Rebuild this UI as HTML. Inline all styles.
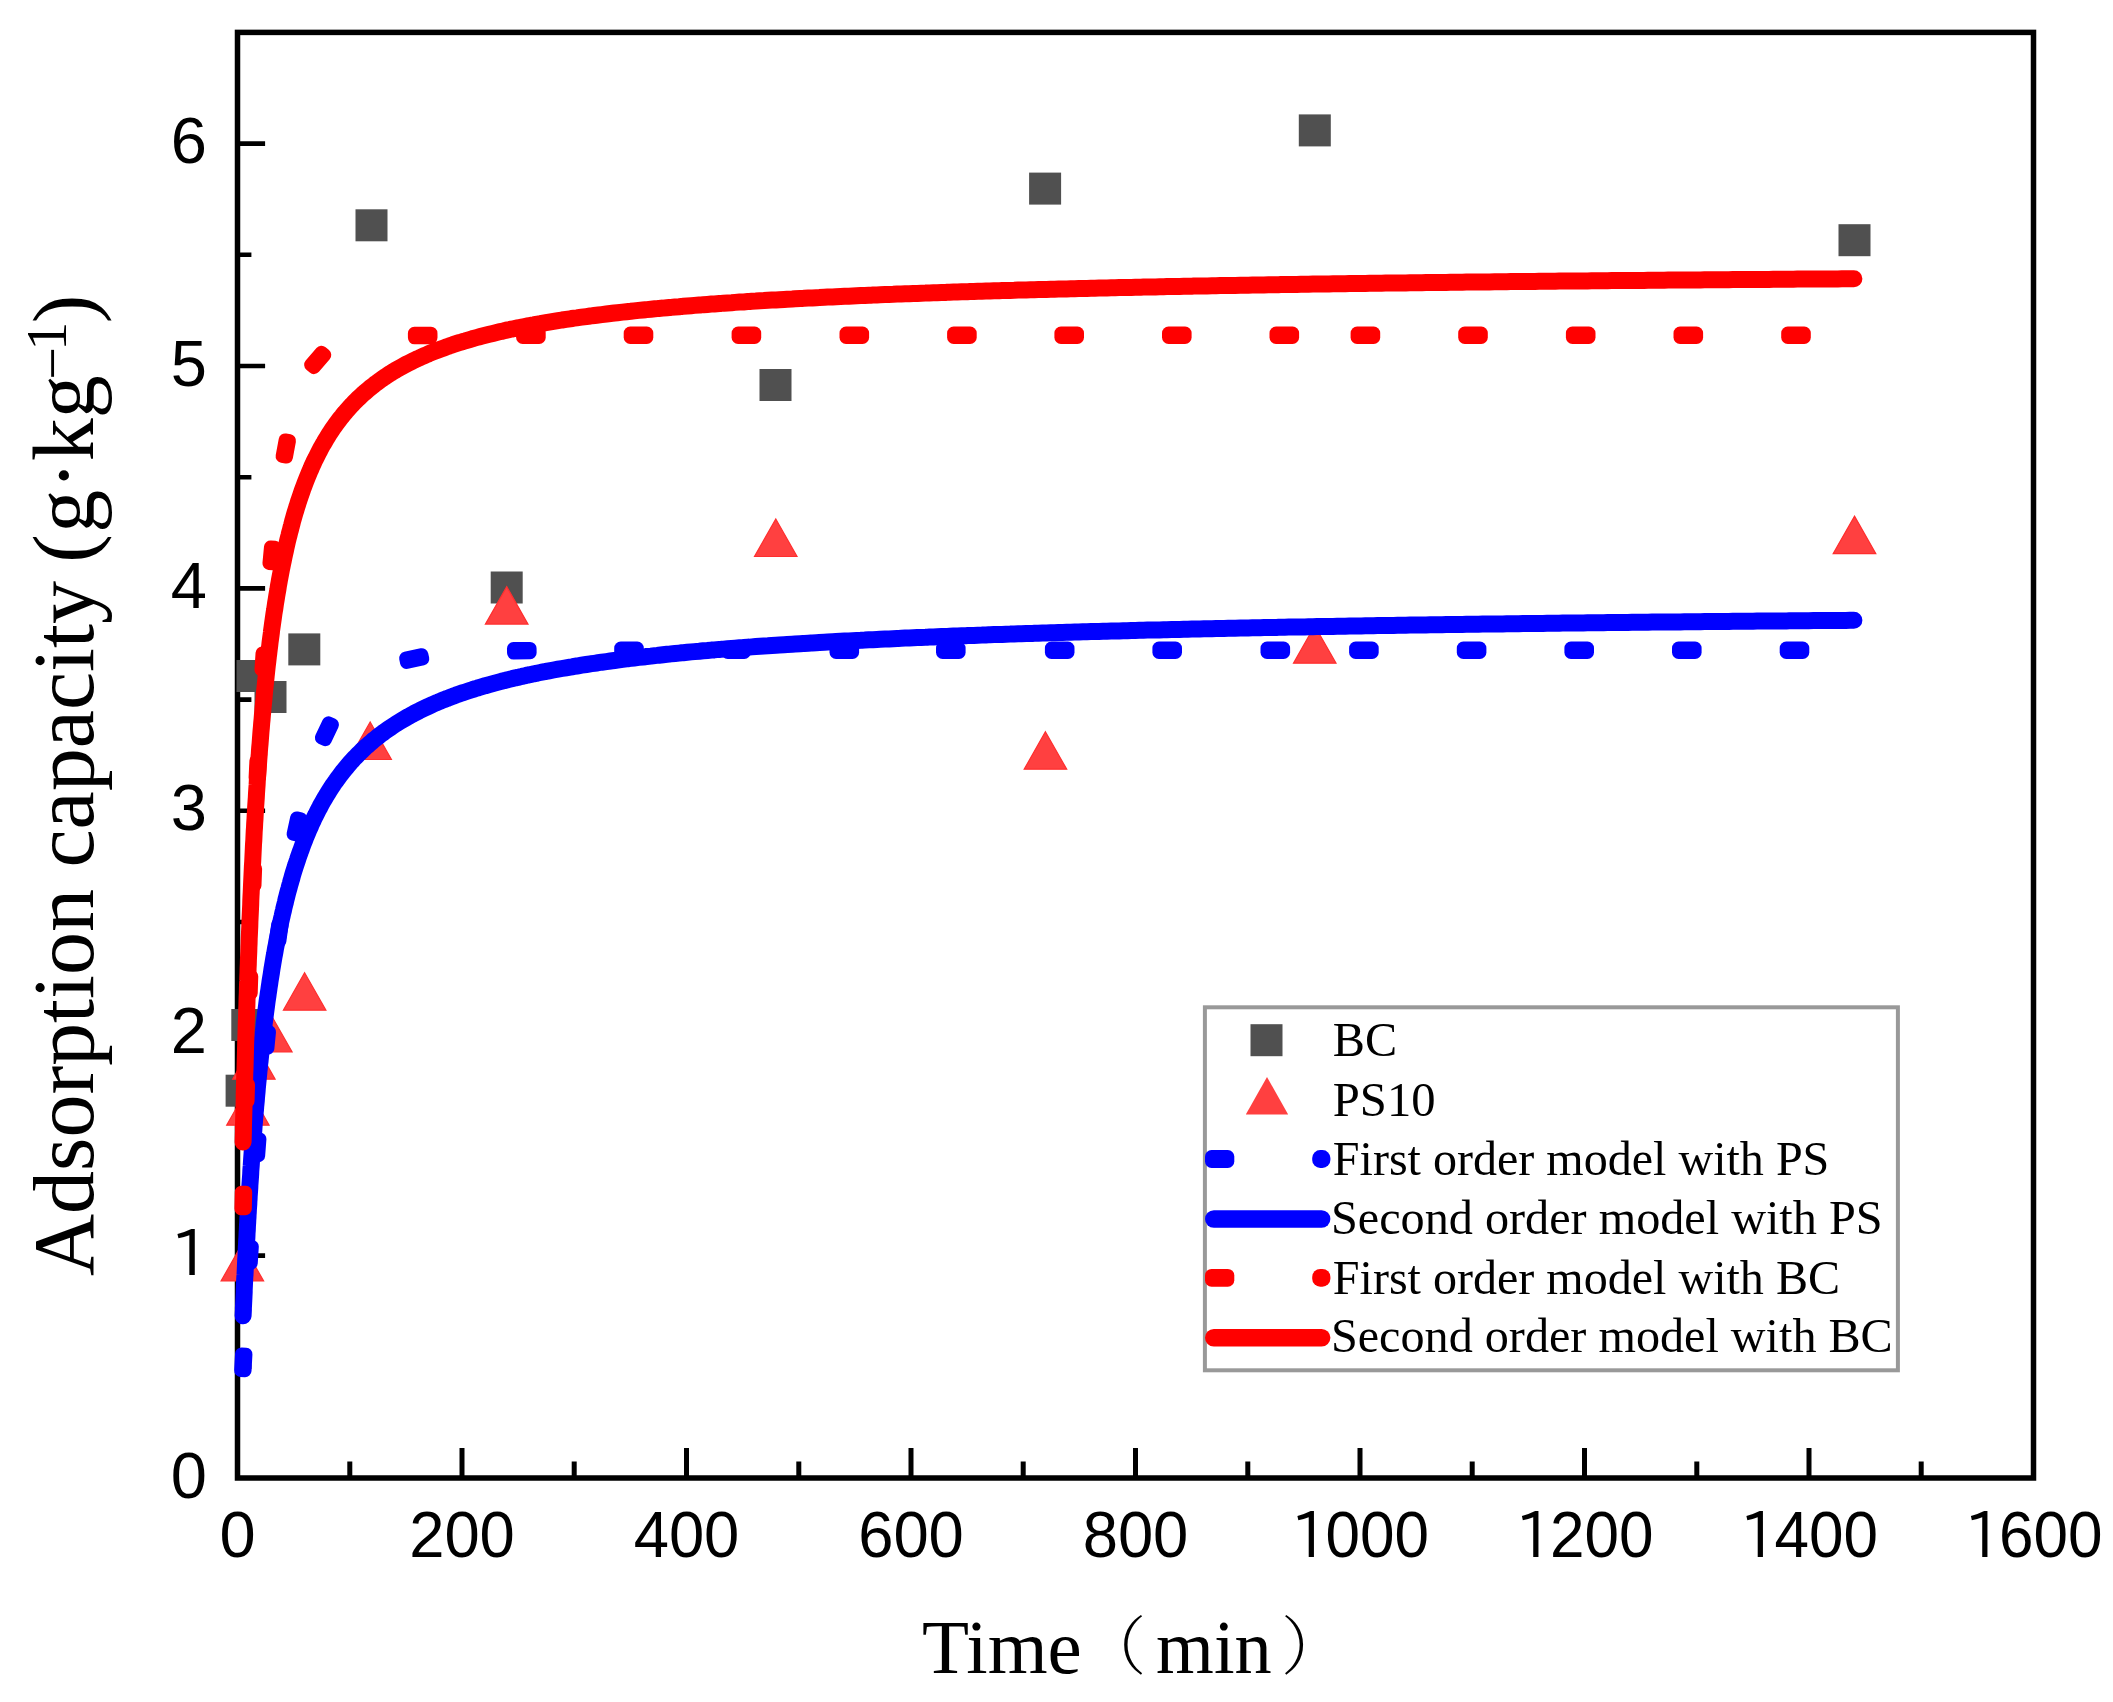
<!DOCTYPE html>
<html><head><meta charset="utf-8"><title>Adsorption kinetics</title>
<style>html,body{margin:0;padding:0;background:#fff;}svg{display:block;filter:blur(0.6px)}</style>
</head><body>
<svg width="2113" height="1702" viewBox="0 0 2113 1702">
<rect width="2113" height="1702" fill="#fff"/>
<rect x="237.5" y="32.4" width="1796.0" height="1445.6" fill="none" stroke="#000" stroke-width="5.5"/>
<path d="M349.8 1478.0V1461.5 M462.0 1478.0V1448.0 M574.2 1478.0V1461.5 M686.5 1478.0V1448.0 M798.8 1478.0V1461.5 M911.0 1478.0V1448.0 M1023.2 1478.0V1461.5 M1135.5 1478.0V1448.0 M1247.8 1478.0V1461.5 M1360.0 1478.0V1448.0 M1472.2 1478.0V1461.5 M1584.5 1478.0V1448.0 M1696.8 1478.0V1461.5 M1809.0 1478.0V1448.0 M1921.2 1478.0V1461.5" stroke="#000" stroke-width="5" fill="none"/>
<path d="M237.5 1366.8H251.4 M237.5 1255.6H265.1 M237.5 1144.4H251.4 M237.5 1033.2H265.1 M237.5 922.0H251.4 M237.5 810.8H265.1 M237.5 699.6H251.4 M237.5 588.4H265.1 M237.5 477.2H251.4 M237.5 366.0H265.1 M237.5 254.8H251.4 M237.5 143.6H265.1" stroke="#000" stroke-width="4.6" fill="none"/>
<g font-family="Liberation Sans, Arial, sans-serif" font-size="65" fill="#000"><text transform="translate(237.5 1557) scale(1.0 1)" text-anchor="middle">0</text><text transform="translate(462.0 1557) scale(0.975 1)" text-anchor="middle">200</text><text transform="translate(686.5 1557) scale(0.975 1)" text-anchor="middle">400</text><text transform="translate(911.0 1557) scale(0.975 1)" text-anchor="middle">600</text><text transform="translate(1135.5 1557) scale(0.975 1)" text-anchor="middle">800</text><text transform="translate(1360.0 1557) scale(0.955 1)" text-anchor="middle"><tspan font-family="IPAPGothic, sans-serif" font-size="62.5" dy="0.8">1</tspan><tspan dx="-3.2" dy="-0.8">000</tspan></text><text transform="translate(1584.5 1557) scale(0.955 1)" text-anchor="middle"><tspan font-family="IPAPGothic, sans-serif" font-size="62.5" dy="0.8">1</tspan><tspan dx="-3.2" dy="-0.8">200</tspan></text><text transform="translate(1809.0 1557) scale(0.955 1)" text-anchor="middle"><tspan font-family="IPAPGothic, sans-serif" font-size="62.5" dy="0.8">1</tspan><tspan dx="-3.2" dy="-0.8">400</tspan></text><text transform="translate(2033.5 1557) scale(0.955 1)" text-anchor="middle"><tspan font-family="IPAPGothic, sans-serif" font-size="62.5" dy="0.8">1</tspan><tspan dx="-3.2" dy="-0.8">600</tspan></text><text x="207" y="1497.5" text-anchor="end">0</text><text x="170.85" y="1275.9" font-family="IPAPGothic, sans-serif" font-size="62.5">1</text><text x="207" y="1052.7" text-anchor="end">2</text><text x="207" y="830.3" text-anchor="end">3</text><text x="207" y="607.9" text-anchor="end">4</text><text x="207" y="385.5" text-anchor="end">5</text><text x="207" y="163.1" text-anchor="end">6</text></g>
<g font-family="Liberation Serif, Times New Roman, serif" font-size="77" fill="#000"><text x="922.0" y="1672.6">Time</text><text transform="translate(1156.1 1672.6) scale(0.965 1)" x="0" y="0">min</text></g>
<g font-family="Noto Serif CJK SC, serif" font-weight="200" font-size="64" fill="#000"><text x="1082.3" y="1669.4">（</text><text x="1280.9" y="1669.4">）</text></g>
<g transform="translate(93.4 0) rotate(-90)" font-family="Liberation Serif, Times New Roman, serif" font-size="86" fill="#000"><text x="-1276.1" y="0">Adsorption capacity</text><text x="-562.8" y="0">(</text><text x="-532.85" y="0">g·kg</text><text x="-379.65" y="-21" font-size="58">−</text><text x="-350.75" y="-27" font-size="58">1</text><text x="-323.2" y="0">)</text></g>
<g fill="#505050"><rect x="225.6" y="1074.7" width="32" height="32"/><rect x="231.3" y="1009.0" width="32" height="32"/><rect x="236.5" y="660.0" width="32" height="32"/><rect x="254.5" y="681.0" width="32" height="32"/><rect x="288.3" y="633.4" width="32" height="32"/><rect x="355.5" y="209.3" width="32" height="32"/><rect x="490.7" y="571.5" width="32" height="32"/><rect x="759.5" y="369.0" width="32" height="32"/><rect x="1029.1" y="172.6" width="32" height="32"/><rect x="1298.8" y="114.4" width="32" height="32"/><rect x="1838.5" y="224.2" width="32" height="32"/></g>
<g fill="#ff4040" stroke="#ff2e2e" stroke-width="1.2" stroke-linejoin="miter"><path d="M242.3 1243.5L263.6 1281.0L221.1 1281.0Z"/><path d="M247.9 1087.8L269.1 1125.2L226.7 1125.2Z"/><path d="M253.9 1041.8L275.1 1079.2L232.7 1079.2Z"/><path d="M270.8 1014.5L292.1 1052.0L249.6 1052.0Z"/><path d="M304.6 972.8L325.9 1010.2L283.4 1010.2Z"/><path d="M370.2 722.0L391.4 759.5L348.9 759.5Z"/><path d="M506.7 586.6L528.0 624.1L485.4 624.1Z"/><path d="M775.8 519.0L797.0 556.5L754.5 556.5Z"/><path d="M1045.4 731.8L1066.7 769.2L1024.2 769.2Z"/><path d="M1314.7 625.8L1336.0 663.2L1293.5 663.2Z"/><path d="M1854.5 516.1L1875.8 553.6L1833.2 553.6Z"/></g>
<g fill="#0000ff"><rect x="228.5" y="1353.6" width="29.6" height="17.4" rx="6.5" transform="rotate(-86.9 243.3 1362.3)"/><rect x="234.8" y="1246.0" width="29.6" height="17.4" rx="6.5" transform="rotate(-86.4 249.6 1254.7)"/><rect x="242.3" y="1138.5" width="29.6" height="17.4" rx="6.5" transform="rotate(-85.6 257.1 1147.2)"/><rect x="251.7" y="1031.1" width="29.6" height="17.4" rx="6.5" transform="rotate(-84.4 266.5 1039.8)"/><rect x="264.0" y="924.0" width="29.6" height="17.4" rx="6.5" transform="rotate(-82.2 278.8 932.7)"/><rect x="282.2" y="817.8" width="29.6" height="17.4" rx="6.5" transform="rotate(-77.7 297.0 826.5)"/><rect x="312.1" y="722.5" width="29.6" height="17.4" rx="6.5" transform="rotate(-64.6 326.9 731.2)"/><rect x="399.4" y="649.9" width="29.6" height="17.4" rx="6.5" transform="rotate(-12.3 414.2 658.6)"/><rect x="507.0" y="642.0" width="29.6" height="17.4" rx="6.5" transform="rotate(-0.8 521.8 650.7)"/><rect x="614.2" y="641.6" width="29.6" height="17.4" rx="6.5" transform="rotate(-0.0 629.0 650.3)"/><rect x="721.2" y="641.5" width="29.6" height="17.4" rx="6.5" transform="rotate(-0.0 736.0 650.2)"/><rect x="829.5" y="641.5" width="29.6" height="17.4" rx="6.5" transform="rotate(-0.0 844.2 650.2)"/><rect x="936.0" y="641.5" width="29.6" height="17.4" rx="6.5" transform="rotate(-0.0 950.8 650.2)"/><rect x="1044.9" y="641.5" width="29.6" height="17.4" rx="6.5" transform="rotate(-0.0 1059.7 650.2)"/><rect x="1152.4" y="641.5" width="29.6" height="17.4" rx="6.5" transform="rotate(-0.0 1167.2 650.2)"/><rect x="1260.5" y="641.5" width="29.6" height="17.4" rx="6.5" transform="rotate(-0.0 1275.3 650.2)"/><rect x="1349.1" y="641.5" width="29.6" height="17.4" rx="6.5" transform="rotate(-0.0 1363.9 650.2)"/><rect x="1456.8" y="641.5" width="29.6" height="17.4" rx="6.5" transform="rotate(-0.0 1471.5 650.2)"/><rect x="1564.4" y="641.5" width="29.6" height="17.4" rx="6.5" transform="rotate(-0.0 1579.2 650.2)"/><rect x="1672.0" y="641.5" width="29.6" height="17.4" rx="6.5" transform="rotate(0.0 1686.8 650.2)"/><rect x="1779.7" y="641.5" width="29.6" height="17.4" rx="6.5" transform="rotate(0.0 1794.5 650.2)"/></g>
<path d="M243.1 1315.8 L243.2 1313.9 L243.3 1312.0 L243.4 1310.1 L243.4 1308.2 L243.5 1306.2 L243.6 1304.3 L243.7 1302.3 L243.8 1300.3 L243.9 1298.3 L244.0 1296.2 L244.1 1294.2 L244.2 1292.1 L244.2 1290.0 L244.3 1287.9 L244.4 1285.8 L244.5 1283.7 L244.6 1281.5 L244.7 1279.4 L244.8 1277.2 L245.0 1275.0 L245.1 1272.8 L245.2 1270.5 L245.3 1268.3 L245.4 1266.0 L245.5 1263.7 L245.6 1261.4 L245.7 1259.1 L245.9 1256.8 L246.0 1254.4 L246.1 1252.0 L246.2 1249.7 L246.3 1247.3 L246.5 1244.8 L246.6 1242.4 L246.7 1240.0 L246.9 1237.5 L247.0 1235.0 L247.1 1232.5 L247.3 1230.0 L247.4 1227.5 L247.5 1225.0 L247.7 1222.4 L247.8 1219.8 L248.0 1217.3 L248.1 1214.7 L248.3 1212.0 L248.4 1209.4 L248.6 1206.8 L248.8 1204.1 L248.9 1201.4 L249.1 1198.8 L249.2 1196.1 L249.4 1193.3 L249.6 1190.6 L249.8 1187.9 L249.9 1185.1 L250.1 1182.4 L250.3 1179.6 L250.5 1176.8 L250.7 1174.0 L250.8 1171.2 L251.0 1168.3 L251.2 1166.1 L251.4 1162.7 L251.6 1159.8 L251.8 1156.9 L252.0 1154.0 L252.2 1151.2 L252.4 1148.3 L252.7 1145.3 L252.9 1142.4 L253.1 1139.5 L253.3 1136.5 L253.5 1133.6 L253.8 1130.6 L254.0 1127.7 L254.2 1124.7 L254.5 1121.7 L254.7 1118.7 L255.0 1115.7 L255.2 1112.7 L255.5 1109.7 L255.7 1106.7 L256.0 1103.7 L256.3 1100.6 L256.5 1097.6 L256.8 1094.5 L257.1 1091.5 L257.3 1088.4 L257.6 1085.4 L257.9 1082.3 L258.2 1079.3 L258.5 1076.2 L258.8 1073.1 L259.1 1070.0 L259.3 1068.6 L259.4 1067.0 L259.7 1063.9 L260.1 1060.8 L260.4 1057.7 L260.7 1054.6 L261.0 1051.5 L261.4 1048.4 L261.7 1045.4 L262.1 1042.3 L262.4 1039.2 L262.8 1036.1 L263.1 1033.0 L263.3 1031.6 L263.5 1029.9 L263.9 1026.8 L264.2 1023.7 L264.6 1020.7 L265.0 1017.6 L265.4 1014.5 L265.8 1011.4 L266.2 1008.4 L266.6 1005.3 L267.0 1002.2 L267.3 1000.0 L267.9 996.1 L268.3 993.1 L268.8 990.0 L269.2 987.0 L269.7 983.9 L270.1 980.9 L270.6 977.9 L271.1 974.9 L271.4 972.9 L272.0 968.8 L272.5 965.8 L273.0 962.9 L273.5 959.9 L274.0 956.9 L274.6 953.9 L275.1 951.0 L275.4 949.2 L275.6 948.0 L276.2 945.1 L276.7 942.2 L277.3 939.2 L277.9 936.3 L278.4 933.4 L279.0 930.5 L279.4 928.5 L280.2 924.8 L280.8 921.9 L281.4 919.1 L282.1 916.3 L282.7 913.4 L283.4 910.6 L284.0 907.8 L284.7 905.0 L285.4 902.3 L286.0 899.5 L286.7 896.8 L287.4 894.0 L288.1 891.3 L288.9 888.6 L289.6 885.9 L290.4 883.2 L291.1 880.5 L291.6 879.0 L292.6 875.2 L293.4 872.6 L294.2 870.0 L295.0 867.4 L295.6 865.7 L296.7 862.3 L297.6 859.7 L298.4 857.2 L299.3 854.7 L300.2 852.1 L301.1 849.7 L302.0 847.2 L302.9 844.7 L303.7 842.7 L304.8 839.9 L305.7 837.4 L306.7 835.1 L307.7 832.7 L308.7 830.3 L309.7 828.0 L310.8 825.6 L311.7 823.4 L312.9 821.0 L313.9 818.7 L315.0 816.5 L315.8 815.0 L317.3 812.0 L318.4 809.8 L319.6 807.6 L320.7 805.4 L321.9 803.2 L323.1 801.1 L323.9 799.8 L325.6 796.9 L326.9 794.8 L327.9 793.1 L329.4 790.6 L330.7 788.6 L331.9 786.8 L333.4 784.5 L334.8 782.5 L336.0 780.9 L337.6 778.6 L339.0 776.7 L340.0 775.4 L342.0 772.8 L343.4 770.9 L345.0 769.0 L346.5 767.2 L348.1 765.3 L349.6 763.5 L351.2 761.7 L352.1 760.7 L354.5 758.1 L356.2 756.4 L357.9 754.6 L359.6 752.9 L361.3 751.2 L363.1 749.5 L364.2 748.4 L366.7 746.1 L368.3 744.8 L370.5 742.9 L372.3 741.3 L374.3 739.6 L376.2 738.1 L378.2 736.5 L380.2 734.9 L382.3 733.4 L384.3 731.9 L386.4 730.4 L388.4 729.0 L390.7 727.4 L392.5 726.2 L395.1 724.5 L396.5 723.6 L399.7 721.6 L402.0 720.2 L404.4 718.8 L406.7 717.5 L408.6 716.4 L411.6 714.8 L412.7 714.2 L414.1 713.4 L416.6 712.1 L419.2 710.8 L420.7 710.0 L424.4 708.3 L427.1 707.0 L428.8 706.2 L432.5 704.5 L435.3 703.3 L436.9 702.6 L438.2 702.1 L440.9 700.9 L443.9 699.7 L446.9 698.6 L449.0 697.7 L452.9 696.3 L456.0 695.1 L459.1 694.0 L461.1 693.3 L462.3 692.9 L465.2 692.0 L468.8 690.8 L472.1 689.7 L473.2 689.3 L475.4 688.6 L477.3 688.1 L478.8 687.6 L481.3 686.9 L485.3 685.7 L489.3 684.6 L492.9 683.6 L496.6 682.6 L500.3 681.6 L501.5 681.3 L504.0 680.6 L505.5 680.3 L507.8 679.7 L509.6 679.3 L511.7 678.8 L513.6 678.3 L515.6 677.8 L517.6 677.4 L519.6 676.9 L521.7 676.5 L523.6 676.0 L525.7 675.6 L527.7 675.1 L529.7 674.7 L531.9 674.2 L533.8 673.8 L536.1 673.4 L537.8 673.0 L540.3 672.5 L541.9 672.2 L544.7 671.7 L545.9 671.4 L549.1 670.8 L553.5 670.0 L558.0 669.2 L562.0 668.5 L566.1 667.8 L570.1 667.1 L572.0 666.8 L574.2 666.4 L576.8 666.0 L578.2 665.8 L581.6 665.2 L586.3 664.5 L590.3 663.9 L591.5 663.7 L594.3 663.3 L596.6 663.0 L598.4 662.7 L601.7 662.2 L606.4 661.6 L610.5 661.0 L612.2 660.8 L614.5 660.5 L617.5 660.1 L622.6 659.4 L626.6 658.9 L628.5 658.7 L630.7 658.4 L634.1 658.0 L638.7 657.4 L642.8 657.0 L645.5 656.7 L646.8 656.5 L650.9 656.1 L654.9 655.6 L657.2 655.4 L658.9 655.2 L663.0 654.7 L667.0 654.3 L669.3 654.1 L671.0 653.9 L675.1 653.5 L679.1 653.1 L681.8 652.8 L683.2 652.7 L687.2 652.3 L691.2 651.9 L694.5 651.6 L699.3 651.2 L701.1 651.0 L703.3 650.8 L707.4 650.5 L711.4 650.1 L714.4 649.9 L719.5 649.4 L721.2 649.3 L723.5 649.1 L727.6 648.8 L731.6 648.5 L735.2 648.2 L739.7 647.8 L742.3 647.6 L743.7 647.5 L747.7 647.2 L749.5 647.1 L751.8 646.9 L755.8 646.6 L759.9 646.3 L763.9 646.0 L767.9 645.8 L771.8 645.5 L776.0 645.2 L779.4 645.0 L784.1 644.7 L787.2 644.5 L792.2 644.2 L795.0 644.0 L800.2 643.7 L803.0 643.5 L804.3 643.4 L808.3 643.2 L811.1 643.0 L812.3 642.9 L816.4 642.7 L819.3 642.5 L824.4 642.2 L827.6 642.0 L832.5 641.8 L836.0 641.6 L840.6 641.3 L844.6 641.1 L848.7 640.9 L852.7 640.7 L856.7 640.5 L860.8 640.3 L862.1 640.2 L864.8 640.1 L868.9 639.8 L871.0 639.7 L872.9 639.7 L876.9 639.5 L880.0 639.3 L885.0 639.1 L889.0 638.9 L893.1 638.7 L897.1 638.5 L898.5 638.4 L901.2 638.3 L905.2 638.1 L908.0 638.0 L909.2 638.0 L913.3 637.8 L917.3 637.6 L921.3 637.4 L925.4 637.3 L927.3 637.2 L929.4 637.1 L933.5 636.9 L937.1 636.8 L941.5 636.6 L945.6 636.4 L947.1 636.4 L949.6 636.3 L953.6 636.1 L957.3 636.0 L961.7 635.8 L965.7 635.7 L967.6 635.6 L969.8 635.5 L973.8 635.4 L977.9 635.2 L981.9 635.1 L985.9 634.9 L988.6 634.8 L990.0 634.8 L994.0 634.6 L998.0 634.5 L999.3 634.4 L1002.1 634.4 L1006.1 634.2 L1010.2 634.1 L1014.2 633.9 L1018.2 633.8 L1021.3 633.7 L1026.3 633.5 L1030.3 633.4 L1032.5 633.4 L1034.4 633.3 L1038.4 633.2 L1042.5 633.0 L1043.8 633.0 L1046.5 632.9 L1050.5 632.8 L1054.6 632.7 L1058.6 632.5 L1062.6 632.4 L1066.7 632.3 L1070.7 632.2 L1074.7 632.1 L1078.8 632.0 L1082.8 631.8 L1086.9 631.7 L1090.9 631.6 L1094.9 631.5 L1099.0 631.4 L1103.0 631.3 L1107.0 631.2 L1111.1 631.1 L1115.1 631.0 L1119.2 630.9 L1123.2 630.8 L1127.2 630.7 L1131.3 630.5 L1135.3 630.4 L1139.3 630.3 L1140.8 630.3 L1143.4 630.2 L1147.4 630.1 L1151.5 630.0 L1153.7 630.0 L1155.5 630.0 L1159.5 629.9 L1163.6 629.8 L1166.8 629.7 L1171.6 629.6 L1175.7 629.5 L1179.7 629.4 L1183.7 629.3 L1187.8 629.2 L1191.8 629.1 L1193.6 629.1 L1195.9 629.0 L1199.9 628.9 L1203.9 628.8 L1207.2 628.8 L1212.0 628.7 L1216.0 628.6 L1220.1 628.5 L1224.1 628.4 L1228.2 628.3 L1232.2 628.2 L1235.1 628.2 L1240.3 628.1 L1244.3 628.0 L1248.3 627.9 L1252.4 627.8 L1256.4 627.8 L1260.5 627.7 L1263.9 627.6 L1268.5 627.5 L1272.6 627.4 L1276.6 627.4 L1278.5 627.3 L1280.6 627.3 L1284.7 627.2 L1288.7 627.1 L1292.7 627.1 L1296.8 627.0 L1300.8 626.9 L1304.9 626.9 L1308.5 626.8 L1312.9 626.7 L1317.0 626.6 L1321.0 626.6 L1323.8 626.5 L1325.0 626.5 L1329.1 626.4 L1333.1 626.4 L1337.2 626.3 L1339.4 626.3 L1341.2 626.2 L1345.2 626.2 L1349.3 626.1 L1353.3 626.0 L1355.1 626.0 L1357.3 626.0 L1361.4 625.9 L1365.4 625.8 L1369.5 625.8 L1371.1 625.7 L1373.5 625.7 L1377.5 625.6 L1381.6 625.6 L1385.6 625.5 L1387.3 625.5 L1389.6 625.4 L1393.7 625.4 L1397.7 625.3 L1401.7 625.3 L1403.7 625.2 L1405.8 625.2 L1409.8 625.1 L1413.9 625.1 L1417.9 625.0 L1420.4 625.0 L1421.9 625.0 L1426.0 624.9 L1430.0 624.8 L1434.0 624.8 L1437.3 624.7 L1442.1 624.7 L1446.2 624.6 L1450.2 624.6 L1454.2 624.5 L1458.3 624.4 L1462.3 624.4 L1466.3 624.3 L1470.4 624.3 L1471.8 624.3 L1474.4 624.2 L1478.5 624.2 L1482.5 624.1 L1486.5 624.1 L1489.5 624.0 L1494.6 624.0 L1498.6 623.9 L1502.7 623.9 L1506.7 623.8 L1510.7 623.8 L1514.8 623.7 L1518.8 623.7 L1522.9 623.6 L1525.5 623.6 L1526.9 623.5 L1530.9 623.5 L1535.0 623.5 L1539.0 623.4 L1543.0 623.4 L1547.1 623.3 L1551.1 623.3 L1555.2 623.2 L1559.2 623.2 L1562.6 623.1 L1567.3 623.1 L1571.3 623.0 L1575.3 623.0 L1579.4 622.9 L1581.6 622.9 L1583.4 622.9 L1587.5 622.8 L1591.5 622.8 L1595.5 622.7 L1599.6 622.7 L1600.8 622.7 L1603.6 622.7 L1607.6 622.6 L1611.7 622.6 L1615.7 622.5 L1619.8 622.5 L1623.8 622.4 L1627.8 622.4 L1631.9 622.3 L1635.9 622.3 L1639.9 622.3 L1644.0 622.2 L1648.0 622.2 L1652.0 622.1 L1656.1 622.1 L1660.1 622.1 L1664.2 622.0 L1668.2 622.0 L1672.2 621.9 L1676.3 621.9 L1680.3 621.9 L1684.3 621.8 L1688.4 621.8 L1692.4 621.7 L1696.5 621.7 L1700.5 621.7 L1704.5 621.6 L1708.6 621.6 L1712.6 621.5 L1716.6 621.5 L1720.7 621.5 L1721.9 621.4 L1724.7 621.4 L1728.8 621.4 L1732.8 621.3 L1736.8 621.3 L1740.9 621.3 L1743.2 621.3 L1744.9 621.2 L1748.9 621.2 L1753.0 621.2 L1757.0 621.1 L1761.0 621.1 L1764.7 621.1 L1769.1 621.0 L1773.2 621.0 L1777.2 621.0 L1781.2 620.9 L1785.3 620.9 L1786.5 620.9 L1789.3 620.8 L1793.3 620.8 L1797.4 620.8 L1801.4 620.7 L1805.5 620.7 L1808.7 620.7 L1813.5 620.6 L1817.6 620.6 L1821.6 620.6 L1825.6 620.5 L1829.7 620.5 L1831.1 620.5 L1833.7 620.5 L1837.8 620.4 L1841.8 620.4 L1845.8 620.4 L1849.9 620.3 L1853.9 620.3" fill="none" stroke="#0000ff" stroke-width="17" stroke-linecap="round" stroke-linejoin="round"/>
<g fill="#ff0000"><rect x="228.5" y="1191.8" width="29.6" height="17.4" rx="6.5" transform="rotate(-88.6 243.3 1200.5)"/><rect x="231.3" y="1084.0" width="29.6" height="17.4" rx="6.5" transform="rotate(-88.4 246.1 1092.7)"/><rect x="234.5" y="976.1" width="29.6" height="17.4" rx="6.5" transform="rotate(-88.2 249.3 984.8)"/><rect x="238.3" y="868.3" width="29.6" height="17.4" rx="6.5" transform="rotate(-87.8 253.1 877.0)"/><rect x="242.9" y="760.5" width="29.6" height="17.4" rx="6.5" transform="rotate(-87.2 257.7 769.2)"/><rect x="248.9" y="652.8" width="29.6" height="17.4" rx="6.5" transform="rotate(-86.3 263.7 661.5)"/><rect x="257.1" y="546.7" width="29.6" height="17.4" rx="6.5" transform="rotate(-84.6 271.9 555.4)"/><rect x="271.0" y="439.8" width="29.6" height="17.4" rx="6.5" transform="rotate(-79.5 285.8 448.5)"/><rect x="302.9" y="351.2" width="29.6" height="17.4" rx="6.5" transform="rotate(-49.5 317.7 359.9)"/><rect x="407.9" y="326.8" width="29.6" height="17.4" rx="6.5" transform="rotate(-0.5 422.8 335.5)"/><rect x="516.1" y="326.6" width="29.6" height="17.4" rx="6.5" transform="rotate(-0.0 530.9 335.3)"/><rect x="623.7" y="326.6" width="29.6" height="17.4" rx="6.5" transform="rotate(-0.0 638.5 335.3)"/><rect x="731.6" y="326.6" width="29.6" height="17.4" rx="6.5" transform="rotate(-0.0 746.4 335.3)"/><rect x="839.5" y="326.6" width="29.6" height="17.4" rx="6.5" transform="rotate(-0.0 854.3 335.3)"/><rect x="947.1" y="326.6" width="29.6" height="17.4" rx="6.5" transform="rotate(-0.0 961.9 335.3)"/><rect x="1054.4" y="326.6" width="29.6" height="17.4" rx="6.5" transform="rotate(0.0 1069.2 335.3)"/><rect x="1162.0" y="326.6" width="29.6" height="17.4" rx="6.5" transform="rotate(0.0 1176.8 335.3)"/><rect x="1269.5" y="326.6" width="29.6" height="17.4" rx="6.5" transform="rotate(0.0 1284.3 335.3)"/><rect x="1350.6" y="326.6" width="29.6" height="17.4" rx="6.5" transform="rotate(0.0 1365.4 335.3)"/><rect x="1458.2" y="326.6" width="29.6" height="17.4" rx="6.5" transform="rotate(0.0 1473.0 335.3)"/><rect x="1565.9" y="326.6" width="29.6" height="17.4" rx="6.5" transform="rotate(0.0 1580.7 335.3)"/><rect x="1673.5" y="326.6" width="29.6" height="17.4" rx="6.5" transform="rotate(0.0 1688.3 335.3)"/><rect x="1781.2" y="326.6" width="29.6" height="17.4" rx="6.5" transform="rotate(0.0 1796.0 335.3)"/></g>
<path d="M243.1 1142.1 L243.2 1138.6 L243.3 1135.1 L243.4 1131.6 L243.4 1128.1 L243.5 1124.6 L243.6 1121.0 L243.7 1117.4 L243.8 1113.8 L243.9 1110.2 L244.0 1106.5 L244.1 1102.9 L244.2 1099.2 L244.2 1095.5 L244.3 1091.8 L244.4 1088.0 L244.5 1084.3 L244.6 1080.5 L244.7 1076.7 L244.8 1072.9 L245.0 1069.0 L245.1 1065.2 L245.2 1061.3 L245.3 1057.4 L245.4 1053.5 L245.5 1049.6 L245.6 1045.7 L245.7 1041.7 L245.9 1037.8 L246.0 1033.8 L246.1 1029.8 L246.2 1025.8 L246.3 1021.7 L246.5 1017.7 L246.6 1013.6 L246.7 1009.6 L246.9 1005.5 L247.0 1001.4 L247.1 997.3 L247.3 993.2 L247.4 989.1 L247.5 984.9 L247.7 980.8 L247.8 976.6 L248.0 972.4 L248.1 968.2 L248.3 964.0 L248.4 959.8 L248.6 955.6 L248.8 951.4 L248.9 947.2 L249.1 943.0 L249.2 938.7 L249.4 934.5 L249.6 930.2 L249.8 926.0 L249.9 921.7 L250.1 917.4 L250.3 913.2 L250.5 908.9 L250.7 904.6 L250.8 900.3 L251.0 896.0 L251.2 892.6 L251.4 887.5 L251.6 883.2 L251.8 878.9 L252.0 874.6 L252.2 870.3 L252.4 866.0 L252.7 861.7 L252.9 857.4 L253.1 853.1 L253.3 848.8 L253.5 844.5 L253.8 840.3 L254.0 836.0 L254.2 831.7 L254.5 827.4 L254.7 823.2 L255.0 818.9 L255.2 814.7 L255.5 810.4 L255.7 806.2 L256.0 801.9 L256.3 797.7 L256.5 793.5 L256.8 789.2 L257.1 785.0 L257.3 780.8 L257.6 776.7 L257.9 772.5 L258.2 768.3 L258.5 764.1 L258.8 760.0 L259.1 755.9 L259.3 753.9 L259.4 751.7 L259.7 747.6 L260.1 743.5 L260.4 739.4 L260.7 735.3 L261.0 731.3 L261.4 727.2 L261.7 723.2 L262.1 719.2 L262.4 715.2 L262.8 711.2 L263.1 707.2 L263.3 705.3 L263.5 703.2 L263.9 699.3 L264.2 695.3 L264.6 691.4 L265.0 687.5 L265.4 683.6 L265.8 679.8 L266.2 675.9 L266.6 672.1 L267.0 668.3 L267.3 665.6 L267.9 660.7 L268.3 657.0 L268.8 653.2 L269.2 649.5 L269.7 645.8 L270.1 642.1 L270.6 638.5 L271.1 634.8 L271.4 632.5 L271.5 631.2 L272.0 627.6 L272.5 624.0 L273.0 620.5 L273.5 617.0 L274.0 613.4 L274.6 609.9 L275.1 606.5 L275.4 604.4 L275.6 603.0 L276.2 599.6 L276.7 596.2 L277.3 592.8 L277.9 589.4 L278.4 586.1 L279.0 582.8 L279.4 580.4 L280.2 576.2 L280.8 573.0 L281.4 569.7 L282.1 566.5 L282.7 563.4 L283.4 560.2 L284.0 557.1 L284.7 554.0 L285.4 550.9 L286.0 547.8 L286.7 544.8 L287.4 541.7 L288.1 538.7 L288.9 535.8 L289.6 532.8 L290.4 529.9 L291.1 527.0 L291.6 525.3 L291.9 524.1 L292.6 521.3 L293.4 518.4 L294.2 515.6 L295.0 512.8 L295.6 511.0 L296.7 507.3 L297.6 504.6 L298.4 501.9 L299.3 499.3 L300.2 496.6 L301.1 494.0 L302.0 491.4 L302.9 488.8 L303.7 486.7 L304.8 483.8 L305.7 481.3 L306.7 478.8 L307.7 476.3 L308.7 473.9 L309.7 471.5 L310.8 469.1 L311.7 466.8 L312.9 464.3 L313.9 462.0 L315.0 459.7 L315.8 458.2 L317.3 455.2 L318.4 453.0 L319.6 450.7 L320.7 448.5 L321.9 446.4 L323.1 444.2 L323.9 443.0 L325.6 440.0 L326.9 437.9 L327.9 436.2 L329.4 433.8 L330.7 431.8 L331.9 430.0 L333.4 427.8 L334.8 425.8 L336.0 424.2 L337.6 422.0 L339.0 420.1 L340.0 418.8 L342.0 416.4 L343.4 414.5 L345.0 412.7 L346.5 410.9 L348.1 409.1 L349.6 407.4 L351.2 405.6 L352.1 404.7 L354.5 402.2 L356.2 400.5 L357.9 398.8 L359.6 397.2 L361.3 395.6 L363.1 393.9 L364.2 393.0 L366.7 390.8 L368.3 389.5 L370.5 387.7 L372.3 386.2 L374.3 384.7 L376.2 383.2 L378.2 381.7 L380.2 380.2 L382.3 378.8 L384.3 377.4 L386.4 376.0 L388.4 374.7 L390.7 373.2 L392.5 372.1 L395.1 370.5 L396.5 369.7 L399.7 367.9 L402.0 366.6 L404.4 365.3 L406.7 364.0 L408.6 363.1 L411.6 361.6 L414.1 360.3 L416.6 359.1 L419.2 358.0 L420.7 357.2 L424.4 355.6 L427.1 354.5 L428.8 353.7 L432.5 352.2 L435.3 351.1 L436.9 350.5 L438.2 350.0 L440.9 349.0 L443.9 347.9 L446.9 346.8 L449.0 346.1 L452.9 344.7 L456.0 343.7 L459.1 342.7 L461.1 342.1 L462.3 341.7 L465.2 340.9 L468.8 339.8 L472.1 338.8 L473.2 338.5 L475.4 337.9 L477.3 337.4 L478.8 337.0 L481.3 336.3 L485.3 335.3 L489.3 334.3 L492.9 333.4 L496.6 332.5 L500.3 331.6 L501.5 331.4 L504.0 330.8 L505.5 330.4 L507.8 329.9 L509.6 329.6 L511.7 329.1 L513.6 328.7 L515.6 328.3 L517.6 327.9 L519.6 327.5 L521.7 327.1 L523.6 326.7 L525.7 326.3 L527.7 325.9 L529.7 325.5 L531.9 325.1 L533.8 324.8 L536.1 324.3 L537.8 324.0 L540.3 323.6 L541.9 323.3 L544.7 322.8 L545.9 322.6 L549.1 322.1 L553.5 321.4 L558.0 320.7 L562.0 320.0 L566.1 319.4 L570.1 318.8 L572.0 318.5 L574.2 318.2 L576.8 317.9 L578.2 317.7 L581.6 317.2 L586.3 316.6 L590.3 316.0 L591.5 315.9 L594.3 315.5 L596.6 315.2 L598.4 315.0 L601.7 314.6 L606.4 314.0 L610.5 313.5 L612.2 313.3 L614.5 313.0 L617.5 312.7 L622.6 312.1 L626.6 311.7 L628.5 311.5 L630.7 311.3 L634.1 310.9 L638.7 310.4 L642.8 310.0 L645.5 309.7 L646.8 309.6 L650.9 309.2 L654.9 308.8 L657.2 308.6 L658.9 308.4 L663.0 308.1 L667.0 307.7 L669.3 307.5 L671.0 307.4 L675.1 307.0 L679.1 306.7 L681.8 306.4 L683.2 306.3 L687.2 306.0 L691.2 305.7 L694.5 305.4 L699.3 305.0 L701.1 304.9 L703.3 304.7 L707.4 304.4 L711.4 304.1 L714.4 303.9 L719.5 303.5 L721.2 303.4 L723.5 303.2 L727.6 302.9 L731.6 302.7 L735.2 302.4 L739.7 302.1 L742.3 301.9 L743.7 301.9 L747.7 301.6 L749.5 301.5 L751.8 301.3 L755.8 301.1 L759.9 300.8 L763.9 300.6 L767.9 300.3 L771.8 300.1 L776.0 299.9 L779.4 299.7 L784.1 299.4 L787.2 299.2 L792.2 299.0 L795.0 298.8 L800.2 298.5 L803.0 298.4 L804.3 298.3 L808.3 298.1 L811.1 298.0 L812.3 297.9 L816.4 297.7 L819.3 297.6 L824.4 297.3 L827.6 297.1 L832.5 296.9 L836.0 296.7 L840.6 296.5 L844.6 296.3 L848.7 296.2 L852.7 296.0 L856.7 295.8 L860.8 295.6 L862.1 295.6 L864.8 295.5 L868.9 295.3 L871.0 295.2 L872.9 295.1 L876.9 294.9 L880.0 294.8 L885.0 294.6 L889.0 294.4 L893.1 294.3 L897.1 294.1 L898.5 294.1 L901.2 294.0 L905.2 293.8 L908.0 293.7 L909.2 293.7 L913.3 293.5 L917.3 293.4 L921.3 293.2 L925.4 293.1 L927.3 293.0 L929.4 292.9 L933.5 292.8 L937.1 292.7 L941.5 292.5 L945.6 292.4 L947.1 292.3 L949.6 292.2 L953.6 292.1 L957.3 292.0 L961.7 291.8 L965.7 291.7 L967.6 291.7 L969.8 291.6 L973.8 291.5 L977.9 291.3 L981.9 291.2 L985.9 291.1 L988.6 291.0 L990.0 291.0 L994.0 290.8 L998.0 290.7 L999.3 290.7 L1002.1 290.6 L1006.1 290.5 L1010.2 290.4 L1014.2 290.3 L1018.2 290.1 L1021.3 290.1 L1026.3 289.9 L1030.3 289.8 L1032.5 289.7 L1034.4 289.7 L1038.4 289.6 L1042.5 289.5 L1043.8 289.4 L1046.5 289.4 L1050.5 289.3 L1054.6 289.2 L1058.6 289.1 L1062.6 289.0 L1066.7 288.9 L1070.7 288.8 L1074.7 288.7 L1078.8 288.6 L1082.8 288.5 L1086.9 288.4 L1090.9 288.3 L1094.9 288.2 L1099.0 288.1 L1103.0 288.0 L1107.0 287.9 L1111.1 287.8 L1115.1 287.7 L1119.2 287.6 L1123.2 287.6 L1127.2 287.5 L1131.3 287.4 L1135.3 287.3 L1139.3 287.2 L1140.8 287.2 L1143.4 287.1 L1147.4 287.0 L1151.5 287.0 L1153.7 286.9 L1155.5 286.9 L1159.5 286.8 L1163.6 286.7 L1166.8 286.6 L1171.6 286.5 L1175.7 286.5 L1179.7 286.4 L1183.7 286.3 L1187.8 286.2 L1191.8 286.2 L1193.6 286.1 L1195.9 286.1 L1199.9 286.0 L1203.9 285.9 L1207.2 285.9 L1212.0 285.8 L1216.0 285.7 L1220.1 285.6 L1224.1 285.6 L1228.2 285.5 L1232.2 285.4 L1235.1 285.4 L1240.3 285.3 L1244.3 285.2 L1248.3 285.2 L1252.4 285.1 L1256.4 285.0 L1260.5 285.0 L1263.9 284.9 L1268.5 284.8 L1272.6 284.8 L1276.6 284.7 L1278.5 284.7 L1280.6 284.6 L1284.7 284.6 L1288.7 284.5 L1292.7 284.4 L1296.8 284.4 L1300.8 284.3 L1304.9 284.3 L1308.5 284.2 L1312.9 284.1 L1317.0 284.1 L1321.0 284.0 L1323.8 284.0 L1325.0 284.0 L1329.1 283.9 L1333.1 283.8 L1337.2 283.8 L1339.4 283.7 L1341.2 283.7 L1345.2 283.7 L1349.3 283.6 L1353.3 283.6 L1355.1 283.5 L1357.3 283.5 L1361.4 283.4 L1365.4 283.4 L1369.5 283.3 L1371.1 283.3 L1373.5 283.3 L1377.5 283.2 L1381.6 283.2 L1385.6 283.1 L1387.3 283.1 L1389.6 283.1 L1393.7 283.0 L1397.7 283.0 L1401.7 282.9 L1403.7 282.9 L1405.8 282.9 L1409.8 282.8 L1413.9 282.8 L1417.9 282.7 L1420.4 282.7 L1421.9 282.7 L1426.0 282.6 L1430.0 282.6 L1434.0 282.5 L1437.3 282.5 L1442.1 282.4 L1446.2 282.4 L1450.2 282.3 L1454.2 282.3 L1458.3 282.2 L1462.3 282.2 L1466.3 282.1 L1470.4 282.1 L1471.8 282.1 L1474.4 282.0 L1478.5 282.0 L1482.5 282.0 L1486.5 281.9 L1489.5 281.9 L1494.6 281.8 L1498.6 281.8 L1502.7 281.7 L1506.7 281.7 L1510.7 281.6 L1514.8 281.6 L1518.8 281.6 L1522.9 281.5 L1525.5 281.5 L1526.9 281.5 L1530.9 281.4 L1535.0 281.4 L1539.0 281.3 L1543.0 281.3 L1547.1 281.3 L1551.1 281.2 L1555.2 281.2 L1559.2 281.1 L1562.6 281.1 L1567.3 281.1 L1571.3 281.0 L1575.3 281.0 L1579.4 280.9 L1581.6 280.9 L1583.4 280.9 L1587.5 280.9 L1591.5 280.8 L1595.5 280.8 L1599.6 280.8 L1600.8 280.7 L1603.6 280.7 L1607.6 280.7 L1611.7 280.6 L1615.7 280.6 L1619.8 280.6 L1623.8 280.5 L1627.8 280.5 L1631.9 280.5 L1635.9 280.4 L1639.9 280.4 L1644.0 280.4 L1648.0 280.3 L1652.0 280.3 L1656.1 280.3 L1660.1 280.2 L1664.2 280.2 L1668.2 280.1 L1672.2 280.1 L1676.3 280.1 L1680.3 280.0 L1684.3 280.0 L1688.4 280.0 L1692.4 279.9 L1696.5 279.9 L1700.5 279.9 L1704.5 279.8 L1708.6 279.8 L1712.6 279.8 L1716.6 279.8 L1720.7 279.7 L1721.9 279.7 L1724.7 279.7 L1728.8 279.7 L1732.8 279.6 L1736.8 279.6 L1740.9 279.6 L1743.2 279.5 L1744.9 279.5 L1748.9 279.5 L1753.0 279.5 L1757.0 279.4 L1761.0 279.4 L1764.7 279.4 L1769.1 279.4 L1773.2 279.3 L1777.2 279.3 L1781.2 279.3 L1785.3 279.2 L1786.5 279.2 L1789.3 279.2 L1793.3 279.2 L1797.4 279.1 L1801.4 279.1 L1805.5 279.1 L1808.7 279.1 L1813.5 279.0 L1817.6 279.0 L1821.6 279.0 L1825.6 278.9 L1829.7 278.9 L1831.1 278.9 L1833.7 278.9 L1837.8 278.9 L1841.8 278.8 L1845.8 278.8 L1849.9 278.8 L1853.9 278.8" fill="none" stroke="#ff0000" stroke-width="17" stroke-linecap="round" stroke-linejoin="round"/>
<rect x="1204.9" y="1007.3" width="693" height="363" fill="#fff" stroke="#999" stroke-width="4"/><rect x="1250.5" y="1024.2" width="32" height="32" fill="#505050"/><path d="M1267 1077.0L1288.2 1114.5L1245.8 1114.5Z" fill="#ff4040"/><rect x="1205" y="1150.1" width="29.3" height="17.8" rx="6.5" fill="#0000ff"/><rect x="1312.2" y="1150.1" width="18.2" height="17.8" rx="8" fill="#0000ff"/><path d="M1213.8 1219.0H1321.6" stroke="#0000ff" stroke-width="17.6" stroke-linecap="round"/><rect x="1205" y="1268.9" width="29.3" height="17.8" rx="6.5" fill="#ff0000"/><rect x="1312.2" y="1268.9" width="18.2" height="17.8" rx="8" fill="#ff0000"/><path d="M1213.8 1337.8H1321.6" stroke="#ff0000" stroke-width="17.6" stroke-linecap="round"/><g font-family="Liberation Serif, Times New Roman, serif" font-size="49" fill="#000"><text transform="translate(1332.82 1056.3) scale(0.984 1)" x="0" y="0">BC</text><text transform="translate(1332.81 1115.9) scale(0.993 1)" x="0" y="0">PS10</text><text transform="translate(1332.83 1174.5) scale(0.981 1)" x="0" y="0">First order model with PS</text><text transform="translate(1330.95 1234.2) scale(0.984 1)" x="0" y="0">Second order model with PS</text><text transform="translate(1332.83 1293.8) scale(0.981 1)" x="0" y="0">First order model with BC</text><text transform="translate(1330.96 1352.4) scale(0.983 1)" x="0" y="0">Second order model with BC</text></g>
</svg>
</body></html>
